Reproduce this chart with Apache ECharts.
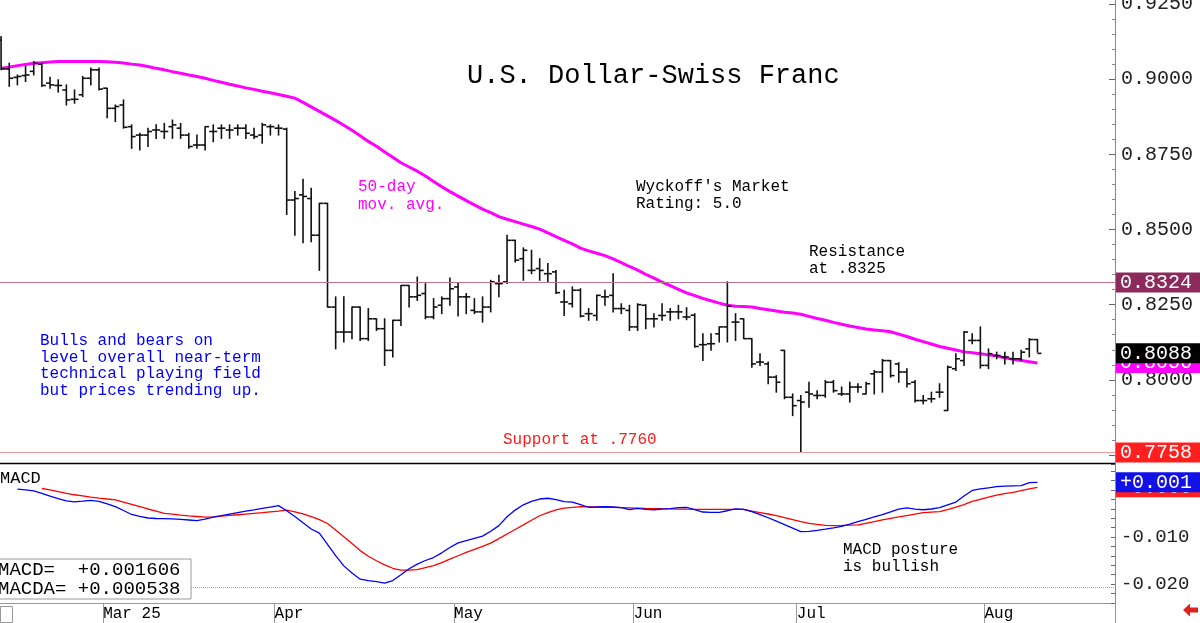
<!DOCTYPE html>
<html>
<head>
<meta charset="utf-8">
<script src="https://cdn.jsdelivr.net/npm/echarts@6/dist/echarts.min.js"></script>
<style>
  html, body { margin: 0; padding: 0; background: #fff; }
  #chart { width: 1200px; height: 623px; }
</style>
</head>
<body>
<div id="chart"></div>
<script>
const MONO = '"Liberation Mono", "DejaVu Sans Mono", monospace';

// daily bars, USD/CHF
const opens = [0.9130,0.9034,0.9006,0.9012,0.9026,0.9050,0.8987,0.8979,0.8964,0.8933,
  0.8948,0.9003,0.9031,0.8970,0.8903,0.8914,0.8842,0.8814,0.8814,0.8831,
  0.8826,0.8842,0.8837,0.8814,0.8781,0.8781,0.8826,0.8837,0.8831,0.8837,
  0.8837,0.8814,0.8814,0.8842,0.8837,0.8834,0.8598,0.8615,0.8603,0.8481,
  0.8587,0.8242,0.8159,0.8159,0.8242,0.8137,0.8203,0.8170,0.8098,0.8198,
  0.8314,0.8276,0.8287,0.8209,0.8248,0.8270,0.8309,0.8276,0.8231,0.8226,
  0.8242,0.8320,0.8326,0.8464,0.8403,0.8364,0.8370,0.8353,0.8359,0.8259,
  0.8253,0.8298,0.8220,0.8214,0.8276,0.8281,0.8237,0.8231,0.8176,0.8248,
  0.8203,0.8214,0.8226,0.8226,0.8209,0.8215,0.8117,0.8120,0.8153,0.8176,
  0.8192,0.8203,0.8137,0.8059,0.8053,0.8009,0.8098,0.7942,0.7931,0.7959,
  0.7948,0.7948,0.7992,0.7953,0.7953,0.7976,0.7953,0.8020,0.8026,0.8064,
  0.8053,0.8026,0.7992,0.7931,0.7937,0.7959,0.7898,0.8037,0.8064,0.8131,
  0.8131,0.8048,0.8081,0.8076,0.8070,0.8070,0.8103,0.8134];
const highs = [0.9142,0.9053,0.9014,0.9042,0.9059,0.9053,0.9006,0.8998,0.8981,0.8964,
  0.9009,0.9037,0.9037,0.8970,0.8914,0.8931,0.8848,0.8820,0.8837,0.8848,
  0.8853,0.8864,0.8853,0.8820,0.8814,0.8842,0.8848,0.8848,0.8848,0.8848,
  0.8848,0.8837,0.8853,0.8848,0.8848,0.8837,0.8626,0.8667,0.8637,0.8587,
  0.8587,0.8276,0.8276,0.8242,0.8242,0.8237,0.8203,0.8203,0.8198,0.8314,
  0.8314,0.8342,0.8320,0.8270,0.8276,0.8339,0.8320,0.8287,0.8270,0.8276,
  0.8331,0.8348,0.8481,0.8464,0.8439,0.8431,0.8403,0.8387,0.8364,0.8298,
  0.8309,0.8303,0.8237,0.8281,0.8298,0.8353,0.8253,0.8248,0.8253,0.8250,
  0.8220,0.8253,0.8237,0.8248,0.8240,0.8220,0.8153,0.8153,0.8176,0.8326,
  0.8220,0.8203,0.8137,0.8087,0.8059,0.8014,0.8098,0.7953,0.7948,0.7992,
  0.7964,0.7998,0.7998,0.7976,0.7992,0.7987,0.7992,0.8031,0.8068,0.8064,
  0.8057,0.8037,0.7998,0.7948,0.7959,0.7987,0.8046,0.8087,0.8161,0.8153,
  0.8176,0.8103,0.8092,0.8092,0.8092,0.8098,0.8137,0.8134];
const lows = [0.9031,0.8976,0.8981,0.8992,0.9014,0.8976,0.8970,0.8957,0.8914,0.8920,
  0.8942,0.8981,0.8964,0.8872,0.8859,0.8837,0.8770,0.8764,0.8776,0.8803,
  0.8803,0.8803,0.8803,0.8770,0.8770,0.8764,0.8792,0.8803,0.8803,0.8814,
  0.8803,0.8803,0.8787,0.8814,0.8814,0.8550,0.8481,0.8456,0.8459,0.8364,
  0.8242,0.8103,0.8126,0.8137,0.8131,0.8131,0.8164,0.8048,0.8076,0.8181,
  0.8242,0.8264,0.8203,0.8203,0.8220,0.8248,0.8212,0.8220,0.8220,0.8192,
  0.8226,0.8276,0.8320,0.8392,0.8331,0.8353,0.8331,0.8326,0.8287,0.8214,
  0.8242,0.8209,0.8198,0.8198,0.8248,0.8226,0.8220,0.8164,0.8164,0.8170,
  0.8176,0.8198,0.8198,0.8203,0.8200,0.8109,0.8064,0.8098,0.8126,0.8126,
  0.8131,0.8137,0.8042,0.8048,0.7987,0.7959,0.7937,0.7881,0.7758,0.7909,
  0.7937,0.7942,0.7959,0.7948,0.7926,0.7959,0.7953,0.7953,0.7959,0.8009,
  0.7992,0.7976,0.7926,0.7920,0.7926,0.7942,0.7898,0.8031,0.8048,0.8120,
  0.8039,0.8037,0.8070,0.8053,0.8053,0.8064,0.8076,0.8092];
const closes = [0.9034,0.9003,0.9009,0.9014,0.9053,0.8979,0.8981,0.8979,0.8931,0.8933,
  0.9003,0.9031,0.8967,0.8903,0.8909,0.8840,0.8809,0.8814,0.8826,0.8831,
  0.8826,0.8848,0.8814,0.8776,0.8781,0.8842,0.8826,0.8837,0.8831,0.8837,
  0.8820,0.8809,0.8848,0.8842,0.8837,0.8598,0.8603,0.8610,0.8481,0.8587,
  0.8242,0.8159,0.8159,0.8242,0.8137,0.8203,0.8170,0.8098,0.8198,0.8314,
  0.8276,0.8281,0.8209,0.8242,0.8270,0.8303,0.8276,0.8276,0.8226,0.8242,
  0.8326,0.8320,0.8464,0.8398,0.8431,0.8364,0.8364,0.8353,0.8290,0.8259,
  0.8298,0.8212,0.8220,0.8281,0.8276,0.8237,0.8237,0.8176,0.8250,0.8203,
  0.8203,0.8214,0.8226,0.8226,0.8209,0.8111,0.8117,0.8120,0.8176,0.8245,
  0.8192,0.8137,0.8053,0.8059,0.8009,0.7992,0.7942,0.7914,0.7926,0.7953,
  0.7948,0.7992,0.7964,0.7953,0.7976,0.7976,0.7987,0.8026,0.8064,0.8014,
  0.8026,0.7987,0.7931,0.7931,0.7937,0.7959,0.8042,0.8070,0.8159,0.8131,
  0.8048,0.8087,0.8081,0.8076,0.8070,0.8092,0.8134,0.8088];

// 50-day moving average
const ma50 = [0.9036,0.9040,0.9045,0.9049,0.9053,0.9055,0.9057,0.9059,0.9059,0.9059,
  0.9059,0.9059,0.9059,0.9058,0.9056,0.9054,0.9050,0.9047,0.9042,0.9036,
  0.9031,0.9025,0.9020,0.9014,0.9009,0.9003,0.8996,0.8990,0.8983,0.8977,
  0.8971,0.8966,0.8960,0.8955,0.8949,0.8943,0.8937,0.8923,0.8908,0.8893,
  0.8878,0.8863,0.8847,0.8830,0.8812,0.8793,0.8777,0.8758,0.8740,0.8722,
  0.8708,0.8694,0.8678,0.8660,0.8642,0.8626,0.8611,0.8596,0.8582,0.8568,
  0.8556,0.8543,0.8534,0.8526,0.8518,0.8510,0.8501,0.8489,0.8476,0.8464,
  0.8452,0.8438,0.8429,0.8421,0.8413,0.8402,0.8390,0.8377,0.8365,0.8351,
  0.8338,0.8325,0.8313,0.8301,0.8289,0.8280,0.8271,0.8263,0.8255,0.8248,
  0.8245,0.8244,0.8242,0.8237,0.8233,0.8229,0.8225,0.8222,0.8218,0.8211,
  0.8204,0.8198,0.8191,0.8185,0.8179,0.8174,0.8169,0.8166,0.8163,0.8160,
  0.8152,0.8144,0.8135,0.8127,0.8119,0.8111,0.8105,0.8099,0.8093,0.8090,
  0.8087,0.8083,0.8079,0.8073,0.8068,0.8064,0.8060,0.8056];

// MACD (blue) and its signal line MACDA (red)
const macd = [null,null,0.00016,0.00000,-0.00019,-0.00072,-0.00131,-0.00184,-0.00234,-0.00254,
  -0.00238,-0.00221,-0.00241,-0.00297,-0.00353,-0.00437,-0.00521,-0.00561,-0.00596,-0.00607,
  -0.00611,-0.00616,-0.00626,-0.00638,-0.00650,-0.00618,-0.00579,-0.00544,-0.00512,-0.00480,
  -0.00450,-0.00422,-0.00393,-0.00363,-0.00333,-0.00442,-0.00566,-0.00698,-0.00829,-0.00916,
  -0.01155,-0.01396,-0.01612,-0.01765,-0.01894,-0.01927,-0.01946,-0.01980,-0.01924,-0.01802,
  -0.01674,-0.01575,-0.01498,-0.01435,-0.01335,-0.01222,-0.01125,-0.01077,-0.01029,-0.00981,
  -0.00877,-0.00758,-0.00570,-0.00428,-0.00316,-0.00245,-0.00193,-0.00177,-0.00204,-0.00248,
  -0.00260,-0.00311,-0.00368,-0.00363,-0.00357,-0.00363,-0.00377,-0.00418,-0.00392,-0.00412,
  -0.00421,-0.00408,-0.00396,-0.00374,-0.00371,-0.00419,-0.00469,-0.00475,-0.00475,-0.00442,
  -0.00401,-0.00411,-0.00459,-0.00525,-0.00591,-0.00661,-0.00735,-0.00809,-0.00887,-0.00878,
  -0.00860,-0.00834,-0.00806,-0.00774,-0.00724,-0.00673,-0.00623,-0.00574,-0.00526,-0.00467,
  -0.00406,-0.00380,-0.00407,-0.00421,-0.00405,-0.00376,-0.00317,-0.00258,-0.00128,-0.00011,
  0.00020,0.00044,0.00069,0.00079,0.00087,0.00091,0.00153,0.00161];
const macdSignal = [null,null,null,null,null,0.00030,0.00000,-0.00036,-0.00072,-0.00103,
  -0.00127,-0.00151,-0.00173,-0.00193,-0.00212,-0.00259,-0.00309,-0.00357,-0.00405,-0.00451,
  -0.00497,-0.00516,-0.00536,-0.00552,-0.00564,-0.00577,-0.00573,-0.00558,-0.00542,-0.00527,
  -0.00512,-0.00498,-0.00484,-0.00466,-0.00448,-0.00429,-0.00464,-0.00510,-0.00569,-0.00630,
  -0.00712,-0.00852,-0.00992,-0.01139,-0.01288,-0.01407,-0.01504,-0.01591,-0.01663,-0.01702,
  -0.01702,-0.01691,-0.01650,-0.01608,-0.01542,-0.01469,-0.01397,-0.01327,-0.01261,-0.01196,
  -0.01129,-0.01033,-0.00936,-0.00839,-0.00742,-0.00644,-0.00548,-0.00484,-0.00426,-0.00385,
  -0.00371,-0.00356,-0.00359,-0.00363,-0.00367,-0.00372,-0.00377,-0.00382,-0.00387,-0.00392,
  -0.00395,-0.00399,-0.00402,-0.00406,-0.00409,-0.00411,-0.00411,-0.00411,-0.00411,-0.00411,
  -0.00411,-0.00411,-0.00451,-0.00481,-0.00511,-0.00546,-0.00588,-0.00630,-0.00673,-0.00712,
  -0.00733,-0.00753,-0.00756,-0.00753,-0.00749,-0.00744,-0.00709,-0.00674,-0.00638,-0.00603,
  -0.00574,-0.00544,-0.00514,-0.00483,-0.00472,-0.00462,-0.00417,-0.00365,-0.00311,-0.00244,
  -0.00199,-0.00155,-0.00112,-0.00078,-0.00050,-0.00016,0.00023,0.00054];

// x axis: one slot per trading day, some empty slots after the last bar
const slotCount = 137;
const days = Array.from({ length: slotCount }, (_, i) => String(i));
const monthStarts = [13, 34, 56, 78, 98, 121];
const monthLabels = ['Mar 25', 'Apr', 'May', 'Jun', 'Jul', 'Aug'];

const resistance = 0.8324;
const support = 0.7758;
const macdGuide = -0.0206;

const bars = opens.map((o, i) => [i, o, highs[i], lows[i], closes[i]]);
const lastIdx = closes.length - 1;

function tag(value, text, bg, lineColor) {
  return {
    yAxis: value,
    lineStyle: { color: lineColor || 'rgba(0,0,0,0)', width: 1, type: 'solid' },
    label: {
      show: true,
      position: 'end',
      distance: 1,
      formatter: text,
      color: '#fff',
      backgroundColor: bg,
      fontFamily: MONO,
      fontSize: 20,
      lineHeight: 19,
      padding: [1, 30, 0, 4]
    }
  };
}

function signed3(v) {
  return (v >= 0 ? '+' : '-') + (Math.floor(Math.abs(v) * 1000) / 1000).toFixed(3);
}

function renderOhlc(params, api) {
  const i = api.value(0);
  const top = api.coord([i, api.value(2)]);
  const bot = api.coord([i, api.value(3)]);
  const o = api.coord([i, api.value(1)]);
  const c = api.coord([i, api.value(4)]);
  const w = 4;
  const st = { stroke: '#111', lineWidth: 1.6 };
  return {
    type: 'group',
    children: [
      { type: 'line', shape: { x1: top[0], y1: top[1] - 0.5, x2: bot[0], y2: bot[1] + 0.5 }, style: st },
      { type: 'line', shape: { x1: o[0] - w, y1: o[1], x2: o[0], y2: o[1] }, style: st },
      { type: 'line', shape: { x1: c[0], y1: c[1], x2: c[0] + w, y2: c[1] }, style: st }
    ]
  };
}

const chart = echarts.init(document.getElementById('chart'), null, { renderer: 'canvas' });

const isMonth = (idx) => monthStarts.indexOf(idx) >= 0;

chart.setOption({
  animation: false,
  backgroundColor: '#fff',
  grid: [
    { left: -3, right: 85, top: 4, height: 451, outerBoundsMode: 'none', containLabel: false },
    { left: -3, right: 85, top: 464, height: 139, outerBoundsMode: 'none', containLabel: false }
  ],
  xAxis: [
    { type: 'category', gridIndex: 0, data: days, boundaryGap: true, show: false },
    {
      type: 'category', gridIndex: 1, data: days, boundaryGap: true,
      axisLine: { onZero: false, lineStyle: { color: '#999', width: 1 } },
      axisTick: { show: true, interval: isMonth, length: 20, lineStyle: { color: '#999' } },
      axisLabel: {
        interval: isMonth,
        formatter: (v, idx) => monthLabels[monthStarts.indexOf(idx)] || '',
        align: 'left',
        padding: [0, 0, 0, -4],
        margin: 3,
        color: '#000',
        fontFamily: MONO,
        fontSize: 16
      }
    }
  ],
  yAxis: [
    {
      type: 'value', gridIndex: 0, position: 'right',
      min: 0.775, max: 0.925, interval: 0.025,
      axisLine: { show: true, lineStyle: { color: '#888' } },
      axisTick: { show: true, inside: true, length: 6, lineStyle: { color: '#666' } },
      minorTick: { show: true, splitNumber: 5, length: 3, lineStyle: { color: '#888' } },
      splitLine: { show: false },
      axisLabel: {
        formatter: (v) => v.toFixed(4),
        margin: 6,
        color: '#222',
        fontFamily: MONO,
        fontSize: 20
      }
    },
    {
      type: 'value', gridIndex: 1, position: 'right',
      min: -0.024, max: 0.0055, interval: 0.002,
      axisLine: { show: true, lineStyle: { color: '#888' } },
      axisTick: { show: true, inside: true, length: 4, lineStyle: { color: '#666' } },
      splitLine: { show: false },
      axisLabel: {
        formatter: (v) => {
          const h = Math.round(v * 100);
          return (h !== 0 && Math.abs(v * 100 - h) < 1e-6) ? v.toFixed(3) : '';
        },
        margin: 6,
        color: '#222',
        fontFamily: MONO,
        fontSize: 19
      }
    }
  ],
  series: [
    {
      name: '50-day',
      type: 'line',
      xAxisIndex: 0, yAxisIndex: 0,
      data: ma50,
      showSymbol: false,
      lineStyle: { color: '#ff00ff', width: 3 },
      z: 3,
      markLine: {
        silent: true,
        precision: 6,
        symbol: ['none', 'none'],
        animation: false,
        data: [
          tag(support, support.toFixed(4), '#ff1f1f', '#ef9a9a'),
          tag(resistance, resistance.toFixed(4), '#8c2a5c', '#c0708f'),
          tag(ma50[lastIdx], ma50[lastIdx].toFixed(4), '#ff00ff'),
          tag(closes[lastIdx], closes[lastIdx].toFixed(4), '#000')
        ]
      }
    },
    {
      name: 'USD/CHF',
      type: 'custom',
      xAxisIndex: 0, yAxisIndex: 0,
      renderItem: renderOhlc,
      data: bars,
      encode: { x: 0, y: [1, 2, 3, 4] },
      z: 4
    },
    {
      name: 'MACDA',
      type: 'line',
      xAxisIndex: 1, yAxisIndex: 1,
      data: macdSignal,
      showSymbol: false,
      lineStyle: { color: '#ff0000', width: 1.3 },
      markLine: {
        silent: true,
        precision: 6,
        symbol: ['none', 'none'],
        data: [
          {
            yAxis: macdGuide,
            lineStyle: { color: '#9a9aff', width: 1, type: 'dotted' },
            label: { show: false }
          },
          tag(macdSignal[lastIdx], signed3(macdSignal[lastIdx]), '#ff1f1f')
        ]
      }
    },
    {
      name: 'MACD',
      type: 'line',
      xAxisIndex: 1, yAxisIndex: 1,
      data: macd,
      showSymbol: false,
      lineStyle: { color: '#0000ff', width: 1.3 },
      markLine: {
        silent: true,
        precision: 6,
        symbol: ['none', 'none'],
        data: [tag(macd[lastIdx], signed3(macd[lastIdx]), '#1212e6')]
      }
    }
  ],
  graphic: [
    { type: 'line', shape: { x1: 0, y1: 463.5, x2: 1115, y2: 463.5 }, style: { stroke: '#000', lineWidth: 1.5 }, z: 5 },
    { type: 'line', shape: { x1: 1115.5, y1: 0, x2: 1115.5, y2: 603 }, style: { stroke: '#888', lineWidth: 1 }, z: 5 },
    {
      type: 'text', x: 467, y: 76,
      style: { text: 'U.S. Dollar-Swiss Franc', font: '27px ' + MONO, fill: '#000', verticalAlign: 'middle' }
    },
    {
      type: 'text', x: 636, y: 178,
      style: { text: "Wyckoff's Market\nRating: 5.0", font: '16px ' + MONO, fill: '#000', lineHeight: 17 }
    },
    {
      type: 'text', x: 358, y: 178,
      style: { text: '50-day\nmov. avg.', font: '16px ' + MONO, fill: '#ff00ff', lineHeight: 18 }
    },
    {
      type: 'text', x: 809, y: 243,
      style: { text: 'Resistance\nat .8325', font: '16px ' + MONO, fill: '#000', lineHeight: 17 }
    },
    {
      type: 'text', x: 40, y: 333,
      style: {
        text: 'Bulls and bears on\nlevel overall near-term\ntechnical playing field\nbut prices trending up.',
        font: '16px ' + MONO, fill: '#0000ff', lineHeight: 16.5
      }
    },
    {
      type: 'text', x: 503, y: 440,
      style: { text: 'Support at .7760', font: '16px ' + MONO, fill: '#ff1a1a', verticalAlign: 'middle' }
    },
    {
      type: 'text', x: 843, y: 541,
      style: { text: 'MACD posture\nis bullish', font: '16px ' + MONO, fill: '#000', lineHeight: 17 }
    },
    {
      type: 'text', x: 0, y: 478,
      style: { text: 'MACD', font: '17px ' + MONO, fill: '#000', verticalAlign: 'middle' }, z: 6
    },
    {
      type: 'rect', shape: { x: -1, y: 559, width: 192, height: 40 },
      style: { fill: '#fff', stroke: '#999', lineWidth: 1 }, z: 10
    },
    {
      type: 'text', x: -2, y: 561,
      style: { text: 'MACD=  +0.001606\nMACDA= +0.000538', font: '19px ' + MONO, fill: '#000', lineHeight: 18.5 }, z: 11
    },
    {
      type: 'rect', shape: { x: 0.5, y: 606.5, width: 12, height: 16 },
      style: { fill: '#fff', stroke: '#999', lineWidth: 1 }, z: 6
    },
    {
      type: 'polygon',
      shape: { points: [[1183, 610], [1190, 603.5], [1190, 607.5], [1198, 607.5], [1198, 612.5], [1190, 612.5], [1190, 616.5]] },
      style: { fill: '#e0201a' }, z: 6
    }
  ]
});
</script>
</body>
</html>
